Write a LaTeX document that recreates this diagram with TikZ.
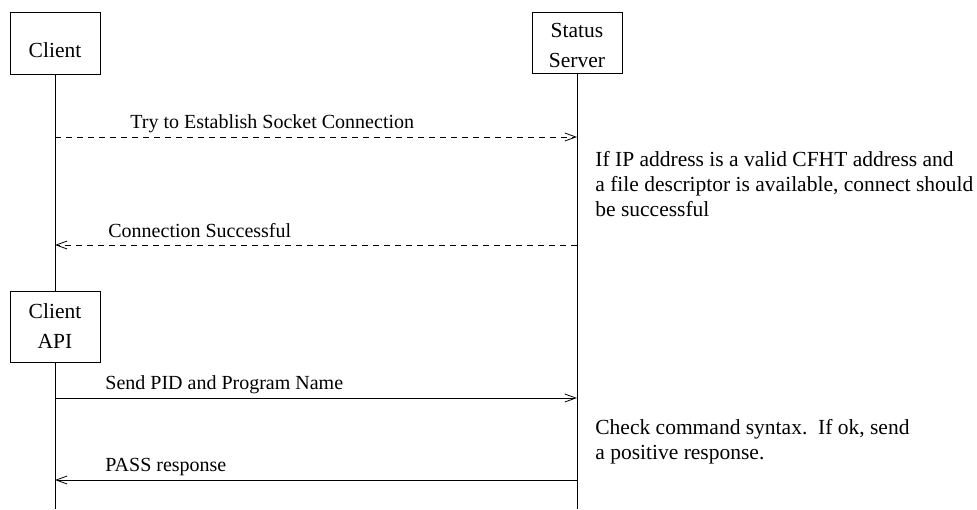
\documentclass[tikz,border=0pt]{standalone}
\usepackage{fontspec}
\setmainfont{Liberation Serif}
\usetikzlibrary{arrows.meta}
\begin{document}
\begin{tikzpicture}[x=1pt,y=-1pt,
  font=\fontsize{20}{25}\selectfont,
  line width=0.8pt,
  actor/.style={draw, minimum width=90pt, inner sep=0pt, align=center,
    font=\fontsize{21.5}{30}\selectfont, text depth=0pt},
  msg/.style={-{Straight Barb[length=11pt,width=8pt]}},
  dmsg/.style={msg, dash pattern=on 6pt off 5pt},
  lbl/.style={anchor=base west, inner sep=0pt},
  note/.style={lbl, font=\fontsize{21.5}{25}\selectfont}]
\useasboundingbox (0,0) rectangle (977,509);
% actors
\node[actor, minimum height=62pt, text height=28pt] (client) at (55,43) {Client};
\node[actor, minimum height=61pt, text height=49pt] (server) at (577,42.5) {Status\\Server};
\node[actor, minimum height=71pt, text height=43pt] (api) at (55,326.5) {Client\\API};
\coordinate (cend) at (55,509);
\coordinate (send) at (577,509);
% lifelines
\draw (client) -- (api);
\draw (api) -- (cend);
\draw (server) -- (send);
% message points
\coordinate (c1) at (55,137);  \coordinate (s1) at (577,137);
\coordinate (c2) at (55,245);  \coordinate (s2) at (577,245);
\coordinate (c3) at (55,398);  \coordinate (s3) at (577,398);
\coordinate (c4) at (55,480);  \coordinate (s4) at (577,480);
\draw[dmsg] (c1) -- (s1);
\draw[dmsg] (s2) -- (c2);
\draw[msg] (c3) -- (s3);
\draw[msg] (s4) -- (c4);
% labels
\node[lbl] (l1) at (130,128) {Try to Establish Socket Connection};
\node[lbl] (l2) at (108,237) {Connection Successful};
\node[lbl] (l3) at (105,389) {Send PID and Program Name};
\node[lbl] (l4) at (105,471) {PASS response};
% notes
\node[note] (n1) at (595,166) {\vtop{\hbox{If IP address is a valid CFHT address and}\hbox{a file descriptor is available, connect should}\hbox{be successful}}};
\node[note] (n2) at (595,434) {\vtop{\hbox{Check command syntax.~~If ok, send}\hbox{a positive response.}}};
\end{tikzpicture}
\end{document}
